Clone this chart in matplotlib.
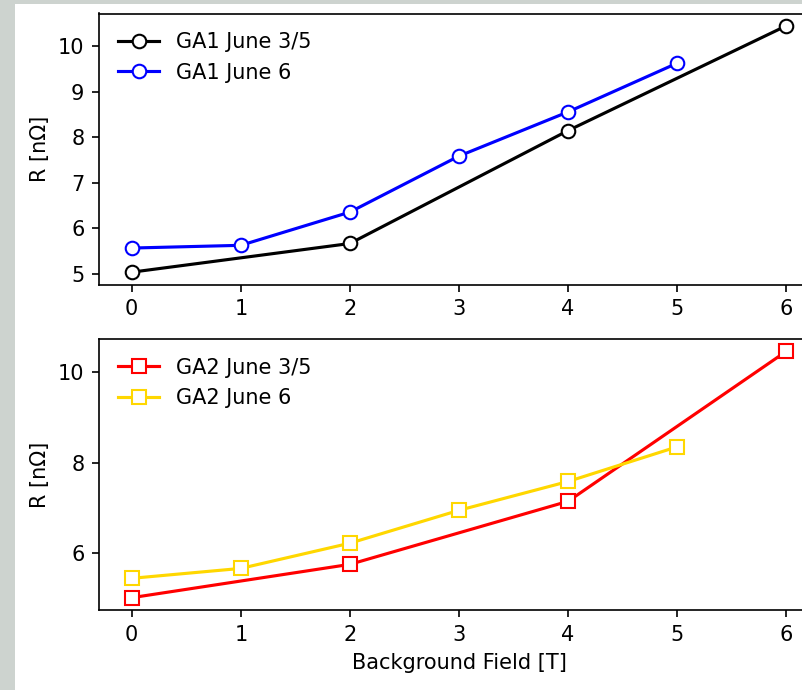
import matplotlib

matplotlib.use("Agg")
import matplotlib.pyplot as plt
from matplotlib.patches import Rectangle

# GA1 resistance vs background field
ga1_x_35 = [0, 2, 4, 6]
ga1_r_35 = [5.04, 5.67, 8.15, 10.45]
ga1_x_6 = [0, 1, 2, 3, 4, 5]
ga1_r_6 = [5.57, 5.63, 6.36, 7.59, 8.56, 9.63]

# GA2 resistance vs background field
ga2_x_35 = [0, 2, 4, 6]
ga2_r_35 = [5.0, 5.74, 7.14, 10.47]
ga2_x_6 = [0, 1, 2, 3, 4, 5]
ga2_r_6 = [5.43, 5.65, 6.21, 6.94, 7.58, 8.35]

W, H = 802, 690
DPI = 150

fig = plt.figure(figsize=(W / DPI, H / DPI), dpi=DPI, facecolor="#cdd3cf")
fig.patches.append(Rectangle((15 / W, 0), 1, 1 - 4 / H, transform=fig.transFigure,
                             facecolor="white", edgecolor="none", zorder=-10))

left = 99 / W
width = (819 - 99) / W
ax1 = fig.add_axes([left, 1 - 284.5 / H, width, 271 / H])
ax2 = fig.add_axes([left, 1 - 610 / H, width, 271 / H])

ms = 6.5
ax1.plot(ga1_x_35, ga1_r_35, "-o", color="black", mfc="white", ms=ms, label="GA1 June 3/5")
ax1.plot(ga1_x_6, ga1_r_6, "-o", color="blue", mfc="white", ms=ms, label="GA1 June 6")
ax1.set_ylabel("R [nΩ]")
ax1.set_yticks([5, 6, 7, 8, 9, 10])
ax1.legend(loc="upper left", frameon=False)

ax2.plot(ga2_x_35, ga2_r_35, "-s", color="red", mfc="white", ms=ms, label="GA2 June 3/5")
ax2.plot(ga2_x_6, ga2_r_6, "-s", color="gold", mfc="white", ms=ms, label="GA2 June 6")
ax2.set_ylabel("R [nΩ]")
ax2.set_yticks([6, 8, 10])
ax2.set_xlabel("Background Field [T]")
ax2.legend(loc="upper left", frameon=False)

for ax in (ax1, ax2):
    ax.set_xticks(range(7))

fig.savefig("out.png", dpi=DPI, facecolor=fig.get_facecolor())
